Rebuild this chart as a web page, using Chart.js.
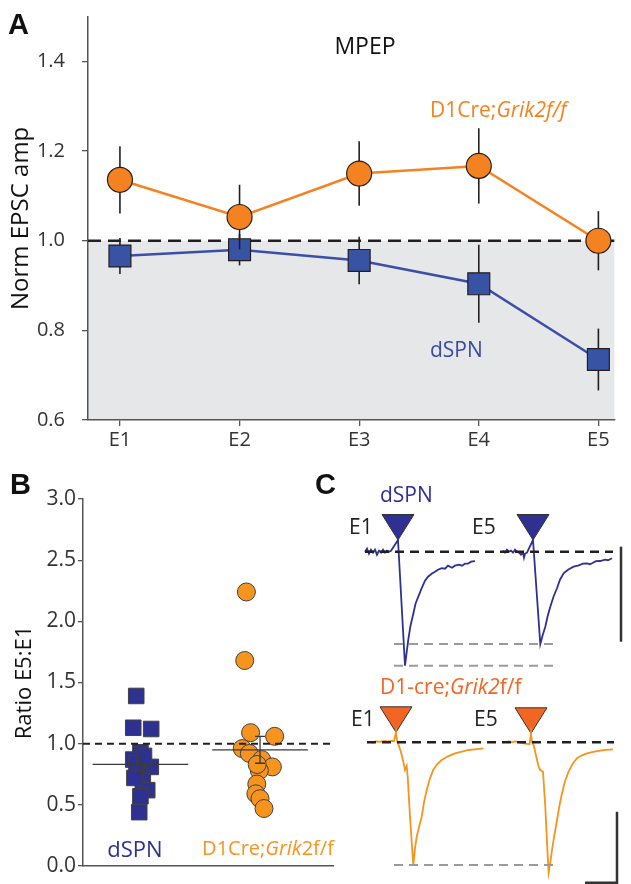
<!DOCTYPE html>
<html>
<head>
<meta charset="utf-8">
<script src="https://cdn.jsdelivr.net/npm/chart.js@4.4.1/dist/chart.umd.min.js"></script>
<style>
  body { margin: 0; background: #fff; }
  #fig { position: relative; width: 631px; height: 884px; overflow: hidden; font-family: "Open Sans", sans-serif; }
  #fig canvas { position: absolute; }
  .t { position: absolute; white-space: nowrap; line-height: 1; }
  .c { transform: translateX(-50%); }
  .pl { font-family: "Liberation Sans", Arial, sans-serif; font-weight: bold; font-size: 29px; color: #111; }
  i { font-style: italic; }
</style>
</head>
<body>
<div id="fig">
  <canvas id="chartA" width="631" height="460" style="left:0;top:0"></canvas>
  <canvas id="chartB" width="345" height="414" style="left:0;top:470px"></canvas>
  <canvas id="chartC1" width="291" height="200" style="left:340px;top:480px"></canvas>
  <canvas id="chartC2" width="291" height="204" style="left:340px;top:680px"></canvas>

  <!-- 面板標籤 -->
  <div class="t pl" style="left:8px;top:10px">A</div>
  <div class="t pl" style="left:10px;top:470px">B</div>
  <div class="t pl" style="left:315px;top:470px">C</div>

  <!-- A 的註解 -->
  <div class="t c" style="left:365px;top:34px;font-size:23px;color:#111">MPEP</div>
  <div class="t" style="left:430px;top:99px;font-size:21px;color:#F58220">D1Cre;<i>Grik2f/f</i></div>
  <div class="t" style="left:430px;top:339px;font-size:21px;color:#3B4BA5">dSPN</div>

  <!-- B 的組別 -->
  <div class="t c" style="left:135px;top:837px;font-size:22px;color:#2E3192">dSPN</div>
  <div class="t c" style="left:268px;top:838px;font-size:20px;color:#F7941D">D1Cre;<i>Grik</i>2f/f</div>

  <!-- C 的註解 -->
  <div class="t" style="left:380px;top:484px;font-size:21px;color:#2E3192">dSPN</div>
  <div class="t" style="left:349px;top:516px;font-size:21px;color:#231F20">E1</div>
  <div class="t" style="left:472px;top:516px;font-size:21px;color:#231F20">E5</div>
  <div class="t" style="left:380px;top:676px;font-size:21px;color:#F26522">D1-cre;<i>Grik2</i>f/f</div>
  <div class="t" style="left:351px;top:708px;font-size:21px;color:#231F20">E1</div>
  <div class="t" style="left:474px;top:708px;font-size:21px;color:#231F20">E5</div>
</div>

<script>
// ===== 資料 =====
// A：各刺激的標準化 EPSC 振幅（平均 ± SEM）
const A_STIM = ['E1', 'E2', 'E3', 'E4', 'E5'];
const A_KO_MEAN = [1.136, 1.053, 1.150, 1.167, 1.000];
const A_KO_SEM = [0.075, 0.072, 0.072, 0.084, 0.066];
const A_DSPN_MEAN = [0.966, 0.980, 0.956, 0.904, 0.735];
const A_DSPN_SEM = [0.040, 0.035, 0.053, 0.087, 0.069];
const A_Y_TICKS = [0.6, 0.8, 1.0, 1.2, 1.4];
const A_REF = 1.0;

// B：每個細胞的 E5:E1 比值（x 為組別位置加上散佈）
const B_DSPN_X = [0.965, 0.94, 1.09, 1.0, 0.94, 1.087, 0.986, 1.02, 1.057, 1.0, 0.99, 0.967, 1.03, 0.95];
const B_DSPN_Y = [1.39, 1.13, 1.12, 0.93, 0.87, 0.81, 0.76, 0.69, 0.62, 0.57, 0.44, 0.84, 0.90, 0.72];
const B_KO_X = [1.886, 1.872, 1.921, 2.122, 1.851, 1.911, 2.014, 2.103, 1.994, 1.973, 1.965, 2.0, 2.033, 1.976];
const B_KO_Y = [2.24, 1.68, 1.09, 1.06, 0.96, 0.92, 0.87, 0.81, 0.78, 0.67, 0.59, 0.55, 0.47, 0.83];
const B_MEAN = [0.83, 0.95];
const B_SEM = [0.075, 0.11];
const B_Y_TICKS = [0, 0.5, 1.0, 1.5, 2.0, 2.5, 3.0];
const B_REF = 1.0;

// C：範例電流軌跡 [時間, 電流]，時間相對於各自的刺激
const C_DSPN_E1 = [[-33,0],[-31,3],[-29,-2],[-27,2],[-25,-1],[-23,2],[-21,-3],[-19,1],[-17,-1],[-15,2],[-13,-1],[-11,1],[-9,0],[-7,1],
  [0,11.7],[7,-114],[8.5,-102],[10.3,-88],[12.5,-74],[15.3,-62],[17.5,-52],[20.3,-45],[23.5,-37],[27,-29],[30,-25],[33.7,-22],
  [37,-20],[40,-18],[43.7,-16.5],[47,-17],[50,-14],[54,-16],[57,-14],[61,-13],[64,-14],[67,-12],[70,-12],[73,-10],[77,-9.5]];
const C_DSPN_E5 = [[-30,1],[-28,-1],[-26,2],[-24,0],[-22,1],[-20,-1],[-18,2],[-16,0],[-14,-1],[-12,-3],[-10,-1],[-9,-6],[-8,-2],[-6,-1],
  [0,11.7],[7.3,-92.3],[9.5,-84],[12.3,-75],[14.5,-65],[17.3,-55],[20.5,-45],[24,-36.6],[27,-28],[30.6,-21.6],[35,-18],[40.6,-15],
  [45,-14],[50,-12],[54,-11.6],[57,-12.5],[60,-11],[63,-9.5],[67.3,-9.3],[72,-8],[75,-8.5],[79,-6.6]];
const C_KO_E1 = [[-31,0],[-28,0.5],[-25,-0.5],[-22,1],[-19,0.5],[-16,1],[-13,1.5],[-10,1],[-7,1.5],[-4,1.3],[-2,10],[-1,2],[0,-1],
  [3,-10],[5.3,-19.4],[7,-27.7],[8.7,-23.7],[9.7,-34.4],[12,-74.4],[13.7,-100],[15.3,-122.7],[17,-106],[18.7,-94.4],[21,-85],
  [23.7,-74.4],[26,-60],[28.7,-47.7],[32,-36],[35.3,-27.7],[39,-22],[43.7,-17.7],[50,-14],[57,-11],[63,-9.5],[70.3,-7.7],[77,-7],[85.3,-6]];
const C_KO_E5 = [[-30,0],[-27,0.5],[-24,1],[-21,0],[-18,1],[-15,0.5],[-12,-0.5],[-9,-1],[-6,-1.5],[-3.4,-1.7],[-2,9],[-1,0],[0.6,-2.7],
  [3,-13],[5.6,-24.4],[7.3,-27.7],[10,-29.4],[12.3,-64.4],[14,-100],[15.6,-130.4],[17.3,-120],[19,-107.7],[21.5,-92],[24,-77.7],
  [26.5,-63],[29,-51],[32,-39],[35.6,-29.4],[40,-21],[44,-16],[49,-13],[54,-11],[60,-9.5],[67.3,-8.4],[73,-7.5],[80,-7]];
const C_E5_SHIFT = 135;   // E5 軌跡在時間軸上的位移

Chart.defaults.font.family = "'Open Sans', sans-serif";
Chart.defaults.animation = false;

// ===== A =====
const A_SEMS = [A_KO_SEM, A_DSPN_SEM];

const shadePlugin = {
  id: 'shade',
  beforeDraw(chart) {
    const { ctx, chartArea: a, scales: { y } } = chart;
    const yr = y.getPixelForValue(A_REF);
    ctx.save();
    ctx.fillStyle = '#E6E7E8';
    ctx.fillRect(a.left, yr, a.right - a.left, a.bottom - yr);
    ctx.restore();
  },
  beforeDatasetsDraw(chart) {
    const { ctx, chartArea: a, scales: { y } } = chart;
    const yr = y.getPixelForValue(A_REF);
    ctx.save();
    ctx.setLineDash([13, 7]);
    ctx.lineWidth = 2.5;
    ctx.strokeStyle = '#231F20';
    ctx.beginPath();
    ctx.moveTo(a.left, yr);
    ctx.lineTo(a.right, yr);
    ctx.stroke();
    ctx.restore();
  }
};

// 每個資料集畫之前先畫誤差線，讓標記蓋在上面
const errPlugin = {
  id: 'errbars',
  beforeDatasetDraw(chart, args) {
    const sem = A_SEMS[args.index];
    const { ctx, scales: { x, y } } = chart;
    ctx.save();
    ctx.lineWidth = 1.6;
    ctx.strokeStyle = '#231F20';
    chart.data.datasets[args.index].data.forEach((p, i) => {
      const px = x.getPixelForValue(p.x);
      ctx.beginPath();
      ctx.moveTo(px, y.getPixelForValue(p.y + sem[i]));
      ctx.lineTo(px, y.getPixelForValue(p.y - sem[i]));
      ctx.stroke();
    });
    ctx.restore();
  }
};

new Chart(document.getElementById('chartA'), {
  type: 'scatter',
  data: {
    datasets: [
      {
        label: 'D1Cre;Grik2f/f',
        data: A_KO_MEAN.map((v, i) => ({ x: i + 1, y: v })),
        showLine: true,
        borderColor: '#F58220',
        borderWidth: 2.5,
        pointStyle: 'circle',
        pointRadius: 12.5,
        pointBackgroundColor: '#F58220',
        pointBorderColor: '#231F20',
        pointBorderWidth: 1.2
      },
      {
        label: 'dSPN',
        data: A_DSPN_MEAN.map((v, i) => ({ x: i + 1, y: v })),
        showLine: true,
        borderColor: '#3B4FA8',
        borderWidth: 2.5,
        pointStyle: 'rect',
        pointRadius: 15.5,
        pointBackgroundColor: '#3953A4',
        pointBorderColor: '#231F20',
        pointBorderWidth: 1.2
      }
    ]
  },
  options: {
    responsive: false,
    layout: { padding: { top: 12, right: 15, left: 0, bottom: 0 } },
    plugins: { legend: { display: false }, tooltip: { enabled: false } },
    scales: {
      x: {
        type: 'linear',
        min: 0.733,
        max: 5.133,
        afterBuildTicks: s => { s.ticks = A_STIM.map((_, i) => ({ value: i + 1 })); },
        afterFit: s => { s.height = 40; s.paddingLeft = 0; s.paddingRight = 0; },
        ticks: { callback: (v, i) => A_STIM[i], color: '#333', font: { size: 20 }, padding: 2, maxRotation: 0, autoSkip: false },
        grid: { drawOnChartArea: false, tickLength: 6, color: '#555', lineWidth: 1.3 },
        border: { color: '#555', width: 1.5 }
      },
      y: {
        min: 0.6,
        max: 1.5,
        afterBuildTicks: s => { s.ticks = A_Y_TICKS.map(v => ({ value: v })); },
        afterFit: s => { s.width = 88; s.paddingTop = 0; s.paddingBottom = 0; },
        ticks: { callback: v => v.toFixed(1), color: '#333', font: { size: 20 }, padding: 17 },
        grid: { drawOnChartArea: false, tickLength: 6, color: '#555', lineWidth: 1.3 },
        border: { color: '#555', width: 1.5 },
        title: { display: true, text: 'Norm EPSC amp', color: '#111', font: { size: 24 }, padding: { top: 7, bottom: 0 } }
      }
    }
  },
  plugins: [shadePlugin, errPlugin]
});

// ===== B =====
const B_MEAN_HALF = 0.4;

const meanPlugin = {
  id: 'means',
  afterDatasetsDraw(chart) {
    const { ctx, chartArea: a, scales: { x, y } } = chart;
    ctx.save();
    const yr = y.getPixelForValue(B_REF);
    ctx.setLineDash([7, 5]);
    ctx.lineWidth = 2;
    ctx.strokeStyle = '#231F20';
    ctx.beginPath();
    ctx.moveTo(a.left, yr);
    ctx.lineTo(a.right, yr);
    ctx.stroke();
    ctx.setLineDash([]);
    ctx.lineWidth = 1.3;
    ctx.strokeStyle = '#3a3a3a';
    B_MEAN.forEach((m, i) => {
      const g = i + 1;
      const xc = x.getPixelForValue(g);
      const ym = y.getPixelForValue(m);
      ctx.beginPath();
      ctx.moveTo(x.getPixelForValue(g - B_MEAN_HALF), ym);
      ctx.lineTo(x.getPixelForValue(g + B_MEAN_HALF), ym);
      const yt = y.getPixelForValue(m + B_SEM[i]);
      const yb = y.getPixelForValue(m - B_SEM[i]);
      ctx.moveTo(xc, yt); ctx.lineTo(xc, yb);
      ctx.moveTo(xc - 5, yt); ctx.lineTo(xc + 5, yt);
      ctx.moveTo(xc - 5, yb); ctx.lineTo(xc + 5, yb);
      ctx.stroke();
    });
    ctx.restore();
  }
};

new Chart(document.getElementById('chartB'), {
  type: 'scatter',
  data: {
    datasets: [
      {
        label: 'dSPN',
        data: B_DSPN_X.map((x, i) => ({ x, y: B_DSPN_Y[i] })),
        pointStyle: 'rect',
        pointRadius: 11,
        pointBackgroundColor: '#2E3192',
        pointBorderColor: '#414042',
        pointBorderWidth: 1
      },
      {
        label: 'D1Cre;Grik2f/f',
        data: B_KO_X.map((x, i) => ({ x, y: B_KO_Y[i] })),
        pointStyle: 'circle',
        pointRadius: 9,
        pointBackgroundColor: '#F7941D',
        pointBorderColor: '#414042',
        pointBorderWidth: 1
      }
    ]
  },
  options: {
    responsive: false,
    layout: { padding: { top: 29, right: 5, left: 0, bottom: 0 } },
    plugins: { legend: { display: false }, tooltip: { enabled: false } },
    scales: {
      x: {
        type: 'linear',
        min: 0.52,
        max: 2.61,
        afterFit: s => { s.height = 18; s.paddingLeft = 0; s.paddingRight = 0; },
        ticks: { display: false },
        grid: { display: false },
        border: { color: '#555', width: 1.5 }
      },
      y: {
        min: 0,
        max: 3,
        afterBuildTicks: s => { s.ticks = B_Y_TICKS.map(v => ({ value: v })); },
        afterFit: s => { s.width = 83; s.paddingTop = 0; s.paddingBottom = 0; },
        ticks: { callback: v => v.toFixed(1), color: '#333', font: { size: 21 }, padding: 2 },
        grid: { drawOnChartArea: false, tickLength: 5, color: '#555', lineWidth: 1.3 },
        border: { color: '#555', width: 1.5 },
        title: { display: true, text: 'Ratio E5:E1', color: '#111', font: { size: 22 }, padding: { top: 12, bottom: 0 } }
      }
    }
  },
  plugins: [meanPlugin]
});

// ===== C =====
const TRI_W = 32;
const TRI_H = 25.5;

function tracePlugin(cfg) {
  return {
    id: 'trace_' + cfg.name,
    beforeDatasetsDraw(chart) {
      // 刺激三角形，尖端對準刺激偽跡的頂點
      const { ctx, scales: { x, y } } = chart;
      ctx.save();
      ctx.fillStyle = cfg.triColor;
      ctx.strokeStyle = '#333';
      ctx.lineWidth = 1;
      cfg.traces.forEach((tr, k) => {
        const peak = tr.reduce((m, p) => (p[1] > m[1] ? p : m), tr[0]);
        const px = x.getPixelForValue(peak[0] + cfg.shift[k]);
        const py = y.getPixelForValue(peak[1]);
        ctx.beginPath();
        ctx.moveTo(px, py);
        ctx.lineTo(px - TRI_W / 2, py - TRI_H);
        ctx.lineTo(px + TRI_W / 2, py - TRI_H);
        ctx.closePath();
        ctx.fill();
        ctx.stroke();
      });
      ctx.restore();
    },
    afterDatasetsDraw(chart) {
      const { ctx, scales: { x, y } } = chart;
      ctx.save();
      // 灰色虛線標示峰值
      ctx.setLineDash([9, 6]);
      ctx.lineWidth = 2;
      ctx.strokeStyle = '#9A9A9A';
      cfg.peakRefs.forEach(k => {
        const lo = Math.min(...cfg.traces[k].map(p => p[1]));
        const py = y.getPixelForValue(lo);
        ctx.beginPath();
        ctx.moveTo(x.getPixelForValue(cfg.refSpan[0]), py);
        ctx.lineTo(x.getPixelForValue(cfg.refSpan[1]), py);
        ctx.stroke();
      });
      // 基線
      ctx.lineWidth = 2.5;
      ctx.strokeStyle = '#231F20';
      const y0 = y.getPixelForValue(0);
      ctx.beginPath();
      ctx.moveTo(x.getPixelForValue(cfg.baseSpan[0]), y0);
      ctx.lineTo(x.getPixelForValue(cfg.baseSpan[1]), y0);
      ctx.stroke();
      // 比例尺
      ctx.setLineDash([]);
      ctx.lineWidth = 2.5;
      ctx.strokeStyle = '#333';
      const b = cfg.bar;
      ctx.beginPath();
      ctx.moveTo(x.getPixelForValue(b.t), y.getPixelForValue(b.v + b.dv));
      ctx.lineTo(x.getPixelForValue(b.t), y.getPixelForValue(b.v));
      if (b.dt) ctx.lineTo(x.getPixelForValue(b.t - b.dt), y.getPixelForValue(b.v));
      ctx.stroke();
      ctx.restore();
    }
  };
}

function traceChart(id, cfg) {
  new Chart(document.getElementById(id), {
    type: 'scatter',
    data: {
      datasets: cfg.traces.map((tr, k) => ({
        data: tr.map(p => ({ x: p[0] + cfg.shift[k], y: p[1] })),
        showLine: true,
        borderColor: cfg.lineColor,
        borderWidth: 1.8,
        pointRadius: 0,
        tension: 0
      }))
    },
    options: {
      responsive: false,
      layout: { padding: 0 },
      plugins: { legend: { display: false }, tooltip: { enabled: false } },
      scales: {
        x: { type: 'linear', display: false, min: cfg.xRange[0], max: cfg.xRange[1] },
        y: { type: 'linear', display: false, min: cfg.yRange[0], max: cfg.yRange[1] }
      }
    },
    plugins: [tracePlugin(cfg)]
  });
}

traceChart('chartC1', {
  name: 'dspn',
  traces: [C_DSPN_E1, C_DSPN_E5],
  shift: [0, C_E5_SHIFT],
  lineColor: '#2E3192',
  triColor: '#2E3192',
  peakRefs: [0, 1],
  refSpan: [-4, 160],
  baseSpan: [-33, 215],
  bar: { t: 223, v: -90, dv: 95 },
  xRange: [-58, 233],
  yRange: [-128.3, 71.7]
});

traceChart('chartC2', {
  name: 'ko',
  traces: [C_KO_E1, C_KO_E5],
  shift: [0, C_E5_SHIFT],
  lineColor: '#F7941D',
  triColor: '#F26522',
  peakRefs: [0],
  refSpan: [-4, 160],
  baseSpan: [-31, 216],
  bar: { t: 219, v: -140.4, dv: 71, dt: 32 },
  xRange: [-58, 233],
  yRange: [-141.7, 62.3]
});
</script>
</body>
</html>
